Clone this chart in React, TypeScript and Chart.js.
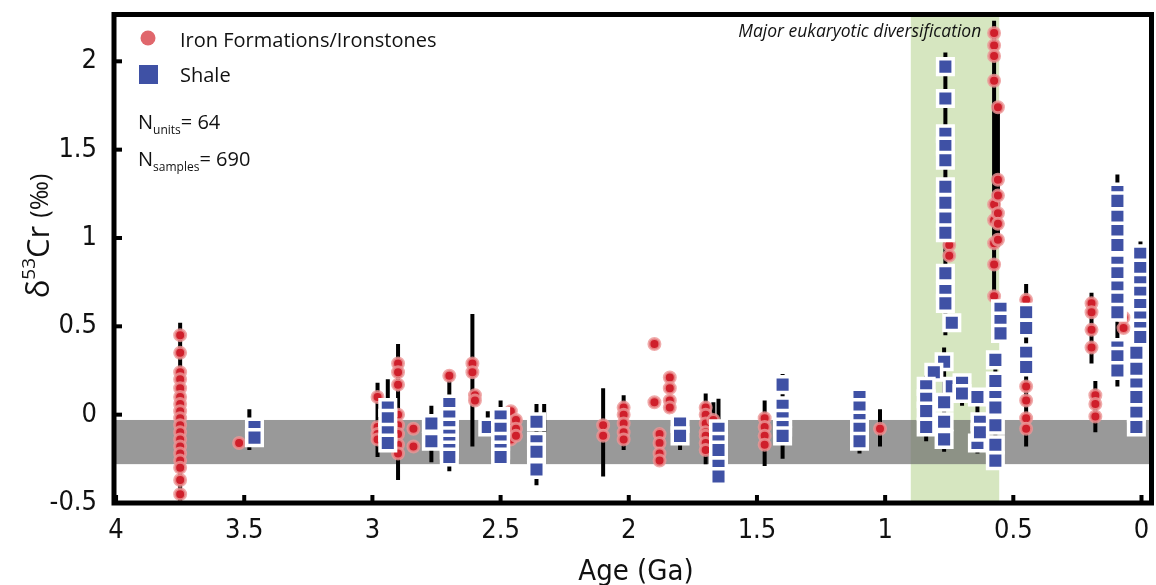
import React, { useEffect, useRef } from "react";
import { Chart, registerables } from "chart.js";

Chart.register(...registerables);

// ---- Data ----
const X_TICKS = [4, 3.5, 3, 2.5, 2, 1.5, 1, 0.5, 0];
const Y_TICKS = [-0.5, 0, 0.5, 1, 1.5, 2];

// Iron formations / ironstones: [age Ga, δ53Cr]
const ironAges = [
  3.75, 3.75, 3.75, 3.75, 3.75, 3.75, 3.75, 3.75, 3.75, 3.75, 3.75, 3.75, 3.75, 3.75, 3.75, 3.75, 3.75, 3.75,
  3.52,
  2.98, 2.98, 2.98, 2.98,
  2.9, 2.9, 2.9, 2.9, 2.9, 2.9, 2.9, 2.9,
  2.84, 2.84,
  2.7,
  2.61, 2.61, 2.6, 2.6,
  2.46, 2.46, 2.46, 2.46, 2.44, 2.44, 2.44,
  2.1, 2.1,
  2.02, 2.02, 2.02, 2.02, 2.02,
  1.9, 1.9,
  1.84, 1.84, 1.84, 1.84,
  1.88, 1.88, 1.88, 1.88,
  1.7, 1.7, 1.7, 1.7, 1.7, 1.7, 1.7,
  1.67,
  1.47, 1.47, 1.47, 1.47,
  1.02,
  0.75, 0.75,
  0.575, 0.575, 0.575, 0.575, 0.575, 0.575, 0.575, 0.575, 0.575,
  0.56, 0.56, 0.56, 0.56, 0.56, 0.56,
  0.45, 0.45, 0.45, 0.45, 0.45,
  0.195, 0.195, 0.195, 0.195,
  0.18, 0.18, 0.18,
  0.07, 0.07,
];
const ironValues = [
  0.45, 0.35, 0.24, 0.2, 0.15, 0.1, 0.06, 0.02, -0.02, -0.06, -0.1, -0.14, -0.18, -0.22, -0.26, -0.3, -0.37, -0.45,
  -0.16,
  0.1, -0.07, -0.11, -0.14,
  0.29, 0.24, 0.17, 0.0, -0.06, -0.11, -0.17, -0.22,
  -0.08, -0.18,
  0.22,
  0.29, 0.24, 0.11, 0.08,
  0.02, -0.06, -0.1, -0.14, -0.03, -0.08, -0.12,
  -0.06, -0.12,
  0.04, 0.0, -0.05, -0.1, -0.14,
  0.4, 0.07,
  0.21, 0.15, 0.08, 0.04,
  -0.11, -0.16, -0.22, -0.26,
  0.04, 0.0, -0.05, -0.1, -0.12, -0.16, -0.2,
  -0.03,
  -0.02, -0.07, -0.12, -0.17,
  -0.08,
  0.96, 0.9,
  2.16, 2.09, 2.03, 1.89, 1.19, 1.1, 0.97, 0.85, 0.67,
  1.74, 1.33, 1.24, 1.14, 1.08, 0.99,
  0.65, 0.16, 0.08, -0.02, -0.08,
  0.63, 0.58, 0.48, 0.38,
  0.11, 0.06, -0.01,
  0.55, 0.49,
];

// Shale
const shaleAges = [
  3.46, 3.46,
  2.94, 2.94, 2.94, 2.94,
  2.77, 2.77,
  2.7, 2.7, 2.7, 2.7, 2.7, 2.7, 2.7,
  2.55,
  2.5, 2.5, 2.5, 2.5, 2.5,
  2.36, 2.36, 2.36, 2.36,
  1.8, 1.8,
  1.65, 1.65, 1.65, 1.65, 1.65,
  1.4, 1.4, 1.4, 1.4, 1.4,
  1.1, 1.1, 1.1, 1.1, 1.1,
  0.765, 0.765, 0.765, 0.765, 0.765, 0.765, 0.765, 0.765, 0.765, 0.765, 0.765, 0.765,
  0.74, 0.74,
  0.77, 0.77, 0.77, 0.77,
  0.81,
  0.84, 0.84, 0.84, 0.84,
  0.7, 0.7,
  0.64, 0.64,
  0.63, 0.63,
  0.57, 0.57, 0.57, 0.57, 0.57, 0.57, 0.57,
  0.55, 0.55, 0.55,
  0.45, 0.45, 0.45, 0.45,
  0.094, 0.094, 0.094, 0.094, 0.094, 0.094, 0.094, 0.094, 0.094, 0.094, 0.094, 0.094, 0.094,
  0.005, 0.005, 0.005, 0.005, 0.005, 0.005, 0.005, 0.005,
  0.02, 0.02, 0.02, 0.02, 0.02, 0.02,
];
const shaleValues = [
  -0.07, -0.13,
  0.04, -0.02, -0.1, -0.16,
  -0.05, -0.15,
  0.06, -0.01, -0.07, -0.12, -0.16, -0.2, -0.24,
  -0.07,
  -0.01, -0.08, -0.15, -0.2, -0.24,
  -0.04, -0.15, -0.21, -0.31,
  -0.05, -0.12,
  -0.08, -0.15, -0.2, -0.29, -0.35,
  0.17, 0.05, -0.02, -0.07, -0.12,
  0.1, 0.04, -0.03, -0.08, -0.15,
  1.97, 1.79, 1.59, 1.52, 1.44, 1.29, 1.2, 1.11, 1.03, 0.8, 0.7, 0.63,
  0.52, 0.16,
  0.3, 0.07, -0.04, -0.14,
  0.24,
  0.16, 0.09, 0.02, -0.07,
  0.18, 0.12,
  0.1, -0.16,
  -0.04, -0.1,
  0.31, 0.19, 0.1, 0.04, -0.06, -0.17, -0.26,
  0.6, 0.53, 0.46,
  0.58, 0.49, 0.35, 0.27,
  1.26, 1.21, 1.12, 1.04, 0.96, 0.86, 0.8, 0.72, 0.65, 0.58, 0.38, 0.33, 0.25,
  0.91, 0.83, 0.75, 0.69, 0.62, 0.55, 0.49, 0.44,
  0.35, 0.26, 0.17, 0.1, 0.01, -0.07,
];

// Error bars (range of each unit): age, low, high
const barAges = [3.75, 3.48, 2.98, 2.94, 2.9, 2.77, 2.7, 2.61, 2.55, 2.5, 2.36, 2.33, 2.1, 2.02, 1.88, 1.8, 1.7, 1.67, 1.65, 1.47, 1.4, 1.1, 1.02, 0.765, 0.77, 0.84, 0.7, 0.64, 0.575, 0.56, 0.57, 0.45, 0.195, 0.18, 0.094, 0.004];
const barLows = [-0.5, -0.2, -0.24, -0.2, -0.37, -0.27, -0.32, -0.18, -0.1, -0.28, -0.4, -0.1, -0.35, -0.2, -0.28, -0.2, -0.28, -0.2, -0.39, -0.29, -0.25, -0.22, -0.18, 0.45, -0.21, -0.15, 0.05, -0.22, 0.6, 0.95, -0.3, -0.18, 0.29, -0.1, 0.16, -0.1];
const barHighs = [0.52, 0.03, 0.18, 0.2, 0.4, 0.05, 0.22, 0.57, 0.02, 0.08, 0.06, 0.06, 0.15, 0.11, -0.08, 0.0, 0.12, 0.07, 0.09, 0.08, 0.23, 0.15, 0.03, 2.05, 0.38, 0.22, 0.21, 0.15, 2.23, 1.75, 0.35, 0.74, 0.69, 0.19, 1.36, 0.98];

// Shaded bands
const grayBand = [-0.28, -0.03]; // δ53Cr range
const greenBand = [0.9, 0.555]; // age range (Ga)

const NARROW = '"Liberation Sans Narrow", "DejaVu Sans Condensed", "Open Sans", sans-serif';
const SANS = '"Open Sans", "Noto Sans", sans-serif';
const CANVAS_W = 1166;

export default function App() {
  const ref = useRef<HTMLCanvasElement | null>(null);

  useEffect(() => {
    document.body.style.margin = "0";
    const canvas = ref.current;
    if (!canvas) return;

    const ironData = ironAges.map((a, i) => ({ x: a, y: ironValues[i] }));
    const shaleData = shaleAges.map((a, i) => ({ x: a, y: shaleValues[i] }));
    const barData: any[] = [];
    barAges.forEach((a, i) => {
      barData.push({ x: a, y: barLows[i] });
      barData.push({ x: a, y: barHighs[i] });
      barData.push({ x: a, y: null });
    });

    const decor = {
      id: "decor",
      beforeDatasetsDraw(chart: any) {
        const { ctx, chartArea: ca, scales } = chart;
        const xs = scales.x, ys = scales.y;
        ctx.save();
        const gx1 = xs.getPixelForValue(greenBand[0]);
        const gx2 = xs.getPixelForValue(greenBand[1]);
        ctx.fillStyle = "rgb(214,230,192)";
        ctx.fillRect(Math.min(gx1, gx2), ca.top, Math.abs(gx2 - gx1), ca.bottom - ca.top);
        const gy1 = ys.getPixelForValue(grayBand[1]);
        const gy2 = ys.getPixelForValue(grayBand[0]);
        ctx.fillStyle = "rgba(110,110,110,0.7)";
        ctx.fillRect(ca.left, gy1, ca.right - ca.left, gy2 - gy1);
        ctx.restore();
      },
      afterDraw(chart: any) {
        const { ctx, chartArea: ca, scales } = chart;
        const xs = scales.x, ys = scales.y;
        ctx.save();
        ctx.strokeStyle = "#000";
        ctx.lineWidth = 5;
        ctx.strokeRect(ca.left, ca.top, ca.right - ca.left, ca.bottom - ca.top);
        ctx.fillStyle = "#000";
        X_TICKS.forEach((v) => {
          const px = xs.getPixelForValue(v);
          ctx.fillRect(px - 2, ca.bottom - 8, 4, 6);
        });
        Y_TICKS.forEach((v) => {
          const py = ys.getPixelForValue(v);
          ctx.fillRect(ca.left + 2, py - 2, 6, 4);
        });
        // annotation
        ctx.fillStyle = "#111";
        ctx.font = `italic 17.5px ${SANS}`;
        ctx.textAlign = "right";
        ctx.textBaseline = "alphabetic";
        ctx.fillText("Major eukaryotic diversification", xs.getPixelForValue(0.625), 37);

        // legend
        ctx.textAlign = "left";
        ctx.beginPath();
        ctx.arc(148, 38, 7.5, 0, Math.PI * 2);
        ctx.fillStyle = "#e0676c";
        ctx.fill();
        ctx.fillStyle = "#3f51a5";
        ctx.fillRect(139, 65, 19, 19);
        ctx.fillStyle = "#111";
        ctx.font = `20px ${SANS}`;
        ctx.fillText("Iron Formations/Ironstones", 180, 47);
        ctx.fillText("Shale", 180, 82);

        const drawN = (sub: string, rest: string, y: number) => {
          ctx.font = `20px ${SANS}`;
          ctx.fillText("N", 138, y);
          let x = 138 + ctx.measureText("N").width;
          ctx.font = `12px ${SANS}`;
          ctx.fillText(sub, x, y + 5);
          x += ctx.measureText(sub).width;
          ctx.font = `20px ${SANS}`;
          ctx.fillText(rest, x, y);
        };
        drawN("units", "= 64", 129);
        drawN("samples", "= 690", 166);

        // x title
        ctx.font = `29px ${NARROW}`;
        ctx.textAlign = "center";
        ctx.fillText("Age (Ga)", 636, 580);

        // y title (rotated)
        ctx.translate(38, 236);
        ctx.rotate(-Math.PI / 2);
        const parts = [
          { t: "δ", f: `31px ${SANS}`, dy: 0 },
          { t: "53", f: `19px ${SANS}`, dy: -14 },
          { t: "Cr ", f: `31px ${SANS}`, dy: 0 },
          { t: "(‰)", f: `25px ${SANS}`, dy: -1 },
        ];
        let total = 0;
        parts.forEach((p) => { ctx.font = p.f; total += ctx.measureText(p.t).width; });
        let x0 = -total / 2;
        ctx.textAlign = "left";
        parts.forEach((p) => {
          ctx.font = p.f;
          ctx.fillText(p.t, x0, 11 + p.dy);
          x0 += ctx.measureText(p.t).width;
        });
        ctx.restore();
      },
    };

    const chart = new Chart(canvas, {
      type: "scatter",
      data: {
        datasets: [
          {
            label: "Shale",
            data: shaleData,
            pointStyle: "rect",
            pointRadius: 11,
            pointBorderWidth: 3.5,
            backgroundColor: "#3f51a5",
            borderColor: "#ffffff",
          } as any,
          {
            label: "Iron Formations/Ironstones",
            data: ironData,
            pointStyle: "circle",
            pointRadius: 5.5,
            pointBorderWidth: 3,
            backgroundColor: "#cf1f2b",
            borderColor: "rgba(236,150,150,0.8)",
          } as any,
          {
            type: "line",
            label: "range",
            data: barData,
            borderColor: "#000",
            borderWidth: 4,
            pointRadius: 0,
            showLine: true,
            spanGaps: false,
            fill: false,
          } as any,
        ],
      },
      options: {
        responsive: false,
        animation: false,
        events: [],
        layout: { padding: { top: 12, right: 0, left: 0, bottom: 0 } },
        plugins: { legend: { display: false }, tooltip: { enabled: false } },
        scales: {
          x: {
            type: "linear",
            reverse: true,
            min: -0.039,
            max: 4.008,
            grid: { display: false, drawTicks: false },
            border: { display: false },
            afterBuildTicks: (s: any) => { s.ticks = X_TICKS.map((v) => ({ value: v })); },
            afterFit: (s: any) => { s.height = 82; s.paddingLeft = 0; s.paddingRight = 0; },
            ticks: {
              color: "#111",
              padding: 12,
              font: { family: NARROW, size: 27 },
              callback: (v: any) => String(v),
            },
          },
          y: {
            type: "linear",
            min: -0.5,
            max: 2.265,
            grid: { display: false, drawTicks: false },
            border: { display: false },
            afterBuildTicks: (s: any) => { s.ticks = Y_TICKS.map((v) => ({ value: v })); },
            afterFit: (s: any) => { s.width = 114; s.paddingTop = 0; s.paddingBottom = 0; },
            ticks: {
              color: "#111",
              padding: 17,
              font: { family: NARROW, size: 27 },
              callback: (v: any) => String(v),
            },
          },
        },
      },
      plugins: [decor],
    });

    return () => chart.destroy();
  }, []);

  return (
    <div style={{ width: 1156, height: 585, background: "#fff", overflow: "hidden" }}>
      <canvas ref={ref} width={CANVAS_W} height={585} style={{ display: "block" }} />
    </div>
  );
}
